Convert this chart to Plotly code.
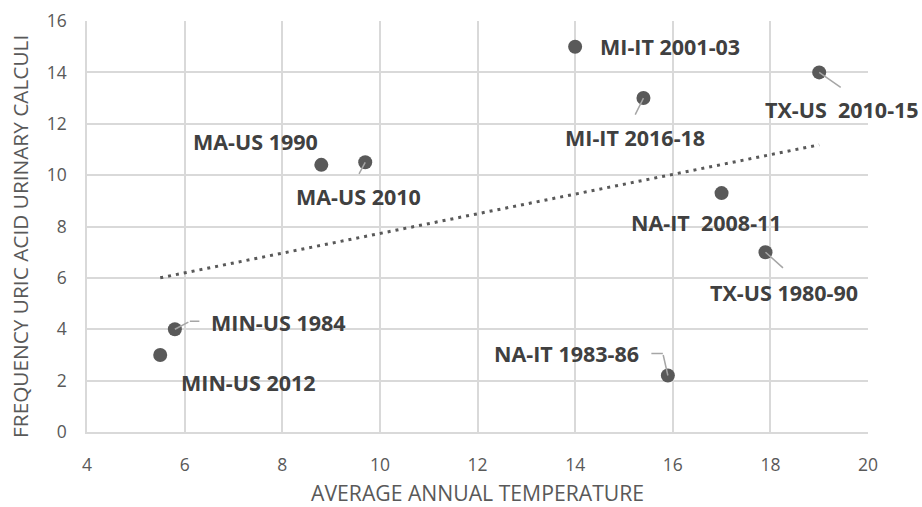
import numpy as np
import plotly.graph_objects as go

labels = ["MIN-US 2012", "MIN-US 1984", "MA-US 1990", "MA-US 2010", "MI-IT 2001-03",
          "MI-IT 2016-18", "TX-US  2010-15", "NA-IT  2008-11", "TX-US 1980-90", "NA-IT 1983-86"]
temperature = [5.5, 5.8, 8.8, 9.7, 14.0, 15.4, 19.0, 17.0, 17.9, 15.9]
frequency = [3.0, 4.0, 10.4, 10.5, 15.0, 13.0, 14.0, 9.3, 7.0, 2.2]

# label offsets in screen pixels (right, down) of text centre relative to the point
text_offsets = [(88, 28), (104, -7), (-66, -23), (-7, 34), (95, 0),
                (-8, 39), (23, 37), (-15, 29), (19, 40), (-101, -22)]
# leader line polylines, screen pixel offsets (right, down) from the point; None = no leader
leaders = [None, [(0, 0), (15, -8), (26, -8)], None, [(0, 0), (-7, 13)], None,
           [(0, 0), (-9, 18)], [(0, 0), (23, 16)], None, [(0, 0), (19, 17)],
           [(0, 0), (-5, -22), (-18, -22)]]

slope, intercept = np.polyfit(temperature, frequency, 1)
tx = [min(temperature), max(temperature)]
ty = [slope * v + intercept for v in tx]

fig = go.Figure()
fig.add_trace(go.Scatter(x=tx, y=ty, mode="lines",
                         line=dict(color="#595959", width=3, dash="3px,5px"),
                         hoverinfo="skip", showlegend=False))
fig.add_trace(go.Scatter(x=temperature, y=frequency, mode="markers",
                         marker=dict(color="#595959", size=14),
                         showlegend=False))

font_family = "Open Sans"
for lab, xv, yv, (dx, dy), path in zip(labels, temperature, frequency, text_offsets, leaders):
    if path is not None:
        for (x0, y0), (x1, y1) in zip(path[:-1], path[1:]):
            fig.add_annotation(x=xv, y=yv, xref="x", yref="y", text="", showarrow=True,
                               xshift=x0, yshift=-y0, ax=x1 - x0, ay=y1 - y0,
                               arrowhead=0, arrowwidth=1.5, arrowcolor="#A6A6A6", standoff=0)
    fig.add_annotation(x=xv, y=yv, xref="x", yref="y", text="<b>%s</b>" % lab,
                       showarrow=False, xshift=dx, yshift=-dy,
                       font=dict(family=font_family, size=21.5, color="#404040"))

# axis titles
fig.add_annotation(x=0.5, y=-0.1472, xref="paper", yref="paper", showarrow=False,
                   text="AVERAGE ANNUAL TEMPERATURE", xanchor="center", yanchor="middle",
                   font=dict(family=font_family, size=21.2, color="#595959"))
fig.add_annotation(x=-0.0858, y=0.477, xref="paper", yref="paper", showarrow=False,
                   text="FREQUENCY URIC ACID URINARY CALCULI", textangle=-90,
                   xanchor="center", yanchor="middle",
                   font=dict(family=font_family, size=20.8, color="#595959"))

fig.update_layout(
    width=922, height=507,
    margin=dict(l=87, r=54, t=21, b=75),
    paper_bgcolor="white", plot_bgcolor="white",
    font=dict(family=font_family, color="#595959"),
    xaxis=dict(range=[4, 20], dtick=2, tick0=4, showgrid=True, gridcolor="#D9D9D9",
               gridwidth=1.5, zeroline=False, showline=True, linecolor="#D9D9D9", linewidth=1.5,
               ticks="", ticklabelstandoff=16, automargin=False,
               tickfont=dict(size=17.5, color="#595959")),
    yaxis=dict(range=[0, 16], dtick=2, tick0=0, showgrid=True, gridcolor="#D9D9D9",
               gridwidth=1.5, zeroline=False, showline=True, linecolor="#D9D9D9", linewidth=1.5,
               ticks="", ticklabelstandoff=15, automargin=False,
               tickfont=dict(size=17.5, color="#595959")),
)

# remove the browser's default 8px page margin so the figure fills the window
fig.write_html("out.html", config={"displayModeBar": False},
               post_script="document.body.style.margin='0px';")
